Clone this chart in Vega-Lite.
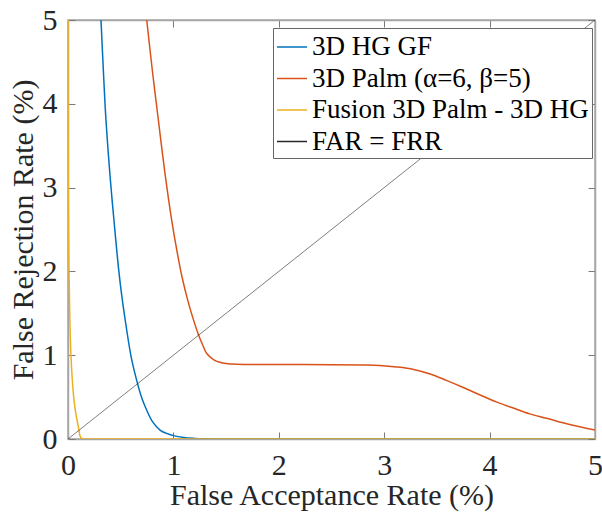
{
  "$schema": "https://vega.github.io/schema/vega-lite/v6.json",
  "autosize": {"type": "none"},
  "padding": {"left": 68, "top": 20, "right": 7, "bottom": 75},
  "width": 527,
  "height": 419,
  "config": {
    "view": {"stroke": "#a6a6a6", "strokeWidth": 1.5},
    "font": "Liberation Serif",
    "axis": {
      "grid": false,
      "domainColor": "#a6a6a6",
      "domainWidth": 1.5,
      "tickColor": "#7a7a7a",
      "tickWidth": 1,
      "tickSize": -7,
      "labelFont": "Liberation Serif",
      "labelFontSize": 30,
      "labelColor": "#262626",
      "labelPadding": 18,
      "labelFlush": false,
      "labelOverlap": false,
      "titleFont": "Liberation Serif",
      "titleFontSize": 30,
      "titleFontWeight": "normal",
      "titleColor": "#262626"
    }
  },
  "data": {
    "values": [
      {"s": "3D HG GF", "x": 0.313, "y": 5},
      {"s": "3D HG GF", "x": 0.34, "y": 4.28},
      {"s": "3D HG GF", "x": 0.36, "y": 3.81},
      {"s": "3D HG GF", "x": 0.40, "y": 3.12},
      {"s": "3D HG GF", "x": 0.436, "y": 2.61},
      {"s": "3D HG GF", "x": 0.48, "y": 2.03},
      {"s": "3D HG GF", "x": 0.51, "y": 1.71},
      {"s": "3D HG GF", "x": 0.538, "y": 1.46},
      {"s": "3D HG GF", "x": 0.6, "y": 0.975},
      {"s": "3D HG GF", "x": 0.658, "y": 0.67},
      {"s": "3D HG GF", "x": 0.70, "y": 0.49},
      {"s": "3D HG GF", "x": 0.746, "y": 0.346},
      {"s": "3D HG GF", "x": 0.80, "y": 0.21},
      {"s": "3D HG GF", "x": 0.873, "y": 0.107},
      {"s": "3D HG GF", "x": 0.93, "y": 0.07},
      {"s": "3D HG GF", "x": 1.0, "y": 0.04},
      {"s": "3D HG GF", "x": 1.1, "y": 0.017},
      {"s": "3D HG GF", "x": 1.2, "y": 0.007},
      {"s": "3D HG GF", "x": 1.3, "y": 0.002},
      {"s": "3D HG GF", "x": 1.45, "y": 0},
      {"s": "3D HG GF", "x": 2.5, "y": 0},
      {"s": "3D HG GF", "x": 5, "y": 0},
      {"s": "3D Palm (α=6, β=5)", "x": 0.747, "y": 5},
      {"s": "3D Palm (α=6, β=5)", "x": 0.80, "y": 4.4},
      {"s": "3D Palm (α=6, β=5)", "x": 0.857, "y": 3.81},
      {"s": "3D Palm (α=6, β=5)", "x": 0.917, "y": 3.2},
      {"s": "3D Palm (α=6, β=5)", "x": 0.984, "y": 2.61},
      {"s": "3D Palm (α=6, β=5)", "x": 1.055, "y": 2.1},
      {"s": "3D Palm (α=6, β=5)", "x": 1.088, "y": 1.9},
      {"s": "3D Palm (α=6, β=5)", "x": 1.135, "y": 1.66},
      {"s": "3D Palm (α=6, β=5)", "x": 1.181, "y": 1.46},
      {"s": "3D Palm (α=6, β=5)", "x": 1.236, "y": 1.25},
      {"s": "3D Palm (α=6, β=5)", "x": 1.275, "y": 1.13},
      {"s": "3D Palm (α=6, β=5)", "x": 1.316, "y": 1.02},
      {"s": "3D Palm (α=6, β=5)", "x": 1.38, "y": 0.948},
      {"s": "3D Palm (α=6, β=5)", "x": 1.44, "y": 0.915},
      {"s": "3D Palm (α=6, β=5)", "x": 1.5, "y": 0.9},
      {"s": "3D Palm (α=6, β=5)", "x": 1.6, "y": 0.891},
      {"s": "3D Palm (α=6, β=5)", "x": 2.0, "y": 0.888},
      {"s": "3D Palm (α=6, β=5)", "x": 2.5, "y": 0.887},
      {"s": "3D Palm (α=6, β=5)", "x": 2.8, "y": 0.884},
      {"s": "3D Palm (α=6, β=5)", "x": 2.96, "y": 0.878},
      {"s": "3D Palm (α=6, β=5)", "x": 3.12, "y": 0.86},
      {"s": "3D Palm (α=6, β=5)", "x": 3.28, "y": 0.83},
      {"s": "3D Palm (α=6, β=5)", "x": 3.45, "y": 0.77},
      {"s": "3D Palm (α=6, β=5)", "x": 3.59, "y": 0.70},
      {"s": "3D Palm (α=6, β=5)", "x": 3.75, "y": 0.615},
      {"s": "3D Palm (α=6, β=5)", "x": 3.91, "y": 0.525},
      {"s": "3D Palm (α=6, β=5)", "x": 4.07, "y": 0.44},
      {"s": "3D Palm (α=6, β=5)", "x": 4.23, "y": 0.366},
      {"s": "3D Palm (α=6, β=5)", "x": 4.38, "y": 0.30},
      {"s": "3D Palm (α=6, β=5)", "x": 4.54, "y": 0.247},
      {"s": "3D Palm (α=6, β=5)", "x": 4.77, "y": 0.17},
      {"s": "3D Palm (α=6, β=5)", "x": 5.0, "y": 0.107},
      {"s": "Fusion 3D Palm - 3D HG", "x": 0.0005, "y": 5},
      {"s": "Fusion 3D Palm - 3D HG", "x": 0.003, "y": 2.85},
      {"s": "Fusion 3D Palm - 3D HG", "x": 0.0095, "y": 2},
      {"s": "Fusion 3D Palm - 3D HG", "x": 0.018, "y": 1.4},
      {"s": "Fusion 3D Palm - 3D HG", "x": 0.028, "y": 1.0},
      {"s": "Fusion 3D Palm - 3D HG", "x": 0.04, "y": 0.72},
      {"s": "Fusion 3D Palm - 3D HG", "x": 0.057, "y": 0.465},
      {"s": "Fusion 3D Palm - 3D HG", "x": 0.075, "y": 0.3},
      {"s": "Fusion 3D Palm - 3D HG", "x": 0.098, "y": 0.147},
      {"s": "Fusion 3D Palm - 3D HG", "x": 0.12, "y": 0.02},
      {"s": "Fusion 3D Palm - 3D HG", "x": 0.14, "y": 0.003},
      {"s": "Fusion 3D Palm - 3D HG", "x": 0.16, "y": 0},
      {"s": "Fusion 3D Palm - 3D HG", "x": 0.5, "y": 0},
      {"s": "Fusion 3D Palm - 3D HG", "x": 5, "y": 0},
      {"s": "FAR = FRR", "x": 0, "y": 0},
      {"s": "FAR = FRR", "x": 5, "y": 5}
    ]
  },
  "layer": [
    {
      "mark": {"type": "line", "clip": true, "interpolate": "catmull-rom"},
      "encoding": {
        "x": {
          "field": "x", "type": "quantitative",
          "scale": {"domain": [0, 5], "nice": false, "zero": false},
          "axis": {"orient": "bottom", "values": [0, 1, 2, 3, 4, 5], "title": "False Acceptance Rate (%)", "titlePadding": 0}
        },
        "y": {
          "field": "y", "type": "quantitative",
          "scale": {"domain": [0, 5], "nice": false, "zero": false},
          "axis": {"orient": "left", "values": [0, 1, 2, 3, 4, 5], "title": "False Rejection Rate (%)", "titlePadding": 4}
        },
        "color": {
          "field": "s", "type": "nominal",
          "scale": {
            "domain": ["3D HG GF", "3D Palm (α=6, β=5)", "Fusion 3D Palm - 3D HG", "FAR = FRR"],
            "range": ["#0072BD", "#D95319", "#EDB120", "#262626"]
          },
          "legend": {
            "orient": "none", "legendX": 205, "legendY": 8,
            "title": null,
            "symbolType": "stroke", "symbolSize": 900, "symbolStrokeWidth": 1.5,
            "labelFont": "Liberation Serif", "labelFontSize": 27, "labelColor": "#000000",
            "labelLimit": 0,
            "fillColor": "white", "strokeColor": "#666666",
            "padding": 3, "rowPadding": 2.5, "labelOffset": 4, "symbolOffset": 0
          }
        },
        "strokeWidth": {"condition": {"test": "datum.s === 'FAR = FRR'", "value": 0.6}, "value": 1.5}
      }
    },
    {
      "mark": {"type": "point", "opacity": 0},
      "encoding": {
        "x": {
          "field": "x", "type": "quantitative",
          "scale": {"domain": [0, 5], "nice": false, "zero": false},
          "axis": {"orient": "top", "values": [0, 1, 2, 3, 4, 5], "labels": false, "title": null}
        },
        "y": {
          "field": "y", "type": "quantitative",
          "scale": {"domain": [0, 5], "nice": false, "zero": false},
          "axis": {"orient": "right", "values": [0, 1, 2, 3, 4, 5], "labels": false, "title": null}
        }
      }
    }
  ],
  "resolve": {"axis": {"x": "independent", "y": "independent"}}
}
